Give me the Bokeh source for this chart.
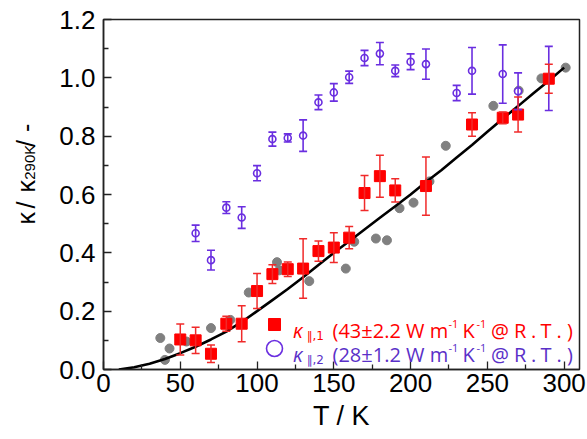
import math
from bokeh.plotting import figure
from bokeh.layouts import row
from bokeh.models import (Range1d, FixedTicker, PrintfTickFormatter, Whisker,
                          ColumnDataSource, TeeHead, Label, Legend, LegendItem)
from bokeh.embed import file_html
from bokeh.resources import INLINE

# ---------------- data ----------------
# kappa_parallel,1 (red squares)
T1 = [50, 60, 70, 80, 90, 100, 110, 120, 130, 140, 150, 160, 170, 180, 190, 210, 240, 260, 270, 290]
k1 = [0.103, 0.100, 0.054, 0.157, 0.157, 0.269, 0.327, 0.344, 0.346, 0.406, 0.418, 0.452,
      0.605, 0.663, 0.614, 0.629, 0.840, 0.863, 0.874, 0.997]
e1 = [0.053, 0.045, 0.030, 0.026, 0.062, 0.060, 0.032, 0.025, 0.102, 0.035, 0.051, 0.038,
      0.060, 0.072, 0.040, 0.100, 0.040, 0.020, 0.060, 0.050]

# kappa_parallel,2 (purple open circles)
T2 = [60, 70, 80, 90, 100, 110, 120, 130, 140, 150, 160, 170, 180, 190, 200, 210, 230, 240, 260, 270, 290]
k2 = [0.467, 0.375, 0.555, 0.521, 0.673, 0.790, 0.794, 0.802, 0.916, 0.950, 1.002, 1.068,
      1.083, 1.024, 1.055, 1.047, 0.948, 1.024, 1.013, 0.954, 0.998]
e2 = [0.028, 0.034, 0.020, 0.037, 0.026, 0.024, 0.014, 0.054, 0.025, 0.030, 0.021, 0.026,
      0.038, 0.020, 0.027, 0.052, 0.026, 0.080, 0.100, 0.063, 0.110]

# grey reference points
Tg = [37, 40, 43, 54, 70, 82.6, 94.6, 113, 114.5, 134, 157.8, 163.3, 177.4, 184.6,
      192.8, 201.9, 212.3, 222.9, 253.9, 270.4, 285.2, 301]
kg = [0.108, 0.033, 0.072, 0.096, 0.142, 0.170, 0.264, 0.368, 0.340, 0.303, 0.346, 0.438,
      0.449, 0.443, 0.553, 0.572, 0.645, 0.767, 0.904, 0.956, 0.998, 1.035]

# black fit curve
Tf = [10, 20, 30, 40, 50, 60, 70, 80, 90, 100, 110, 120, 130, 140, 150, 160, 170, 180,
      190, 200, 210, 220, 230, 240, 250, 260, 270, 280, 290, 300]
kf = [0.000, 0.008, 0.020, 0.036, 0.056, 0.078, 0.103, 0.130, 0.163, 0.200, 0.238, 0.276,
      0.316, 0.358, 0.400, 0.440, 0.480, 0.520, 0.560, 0.600, 0.643, 0.683, 0.727, 0.770,
      0.815, 0.860, 0.903, 0.947, 0.990, 1.035]

x_major = [0, 50, 100, 150, 200, 250, 300]
x_minor = [25, 75, 125, 175, 225, 275]
y_major = [0.0, 0.2, 0.4, 0.6, 0.8, 1.0, 1.2]
y_minor = [0.1, 0.3, 0.5, 0.7, 0.9, 1.1]

RED = "#ff0000"
RED_ERR = "#f02a2a"
PURPLE = "#6a2ee0"
PURPLE_TXT = "#5a30c8"
GREY = "#808080"

# ---------------- main figure ----------------
p = figure(width=542, height=439, output_backend="svg", toolbar_location=None,
           x_range=Range1d(0, 310), y_range=Range1d(0, 1.2),
           min_border_left=58, min_border_right=8, min_border_top=19, min_border_bottom=70)
p.xgrid.visible = False
p.ygrid.visible = False
p.outline_line_color = "#222222"
p.outline_line_width = 1.5

p.xaxis.ticker = FixedTicker(ticks=x_major, minor_ticks=x_minor)
p.yaxis.ticker = FixedTicker(ticks=y_major, minor_ticks=y_minor)
p.yaxis.formatter = PrintfTickFormatter(format="%.1f")
for ax in (p.xaxis[0], p.yaxis[0]):
    ax.major_tick_in = 8
    ax.major_tick_out = 0
    ax.minor_tick_in = 5
    ax.minor_tick_out = 0
    ax.major_tick_line_color = "#222222"
    ax.minor_tick_line_color = "#222222"
    ax.major_tick_line_width = 1.3
    ax.minor_tick_line_width = 1.3
    ax.axis_line_color = "#222222"
    ax.axis_line_width = 1.5
    ax.major_label_text_font = "Liberation Sans"
    ax.major_label_text_font_size = "26px"
    ax.major_label_text_color = "black"
p.xaxis.major_label_standoff = 4
p.yaxis.major_label_standoff = 8
p.xaxis.axis_label = "T / K"
p.xaxis.axis_label_text_font = "Liberation Sans"
p.xaxis.axis_label_text_font_size = "27px"
p.xaxis.axis_label_text_font_style = "normal"
p.xaxis.axis_label_text_color = "black"
p.xaxis.axis_label_standoff = 6

# ---------------- marks ----------------
p.scatter(Tg, kg, marker="circle", size=9, fill_color=GREY, line_color=GREY)
p.line(Tf, kf, line_width=2.6, line_color="black")

src2 = ColumnDataSource(dict(x=T2, y=k2,
                             lo=[a - b for a, b in zip(k2, e2)],
                             hi=[a + b for a, b in zip(k2, e2)]))
src1 = ColumnDataSource(dict(x=T1, y=k1,
                             lo=[a - b for a, b in zip(k1, e1)],
                             hi=[a + b for a, b in zip(k1, e1)]))

w2 = Whisker(source=src2, base="x", upper="hi", lower="lo", line_color=PURPLE, line_width=1.6,
             upper_head=TeeHead(size=8, line_color=PURPLE, line_width=1.6),
             lower_head=TeeHead(size=8, line_color=PURPLE, line_width=1.6), level="glyph")
p.add_layout(w2)
r2 = p.scatter("x", "y", source=src2, marker="circle", size=7, fill_color="white",
               line_color=PURPLE, line_width=1.6)

w1 = Whisker(source=src1, base="x", upper="hi", lower="lo", line_color=RED_ERR, line_width=1.5,
             upper_head=TeeHead(size=8, line_color=RED_ERR, line_width=1.5),
             lower_head=TeeHead(size=8, line_color=RED_ERR, line_width=1.5), level="glyph")
p.add_layout(w1)
r1 = p.scatter("x", "y", source=src1, marker="square", size=11, fill_color=RED, line_color=RED)

# ---------------- legend (markers) ----------------
leg1 = Legend(items=[LegendItem(label=" ", renderers=[r1])], location=(156, 30),
              glyph_width=30, glyph_height=30, padding=0, margin=0, spacing=0,
              label_standoff=0, label_text_font_size="1px", label_width=1, label_height=1,
              border_line_color=None, background_fill_alpha=0)
leg2 = Legend(items=[LegendItem(label=" ", renderers=[r2])], location=(151, 1),
              glyph_width=40, glyph_height=40, padding=0, margin=0, spacing=0,
              label_standoff=0, label_text_font_size="1px", label_width=1, label_height=1,
              border_line_color=None, background_fill_alpha=0)
p.add_layout(leg1)
p.add_layout(leg2)


# ---------------- text helpers (reference pixel -> data position) ----------------
def dx(px):
    return (px - 103) / 476 * 310


def dy(py):
    return (369 - py) / 350 * 1.2


def txt(s, px, py, size, color="black", font="Open Sans", style="normal"):
    p.add_layout(Label(x=dx(px), y=dy(py), text=s, text_font=font, text_font_size=f"{size}px",
                       text_color=color, text_font_style=style,
                       text_align="left", text_baseline="alphabetic"))


# legend text
for base, sub, val, col in ((330, "\u2225,1", "(43\u00b12.2 W m", RED),
                            (354, "\u2225,2", "(28\u00b11.2 W m", PURPLE_TXT)):
    txt("\u03ba", 292.5, base, 20, col, style="italic")
    txt(sub, 306, base + 5, 12, col, font="DejaVu Sans")
    txt(val, 332, base, 20, col)
    txt("-1", 448, base - 7, 11, col)
    txt("K", 462, base, 20, col)
    txt("-1", 476, base - 7, 11, col)
    for ch, cx in (("@", 490.5), ("R", 513.5), (".", 530.5), ("T", 540), (".", 556), (")", 566.5)):
        txt(ch, cx, base, 20, col)

# ---------------- y-axis title strip ----------------
W_STRIP = 45
yt = figure(width=W_STRIP, height=439, output_backend="svg", toolbar_location=None,
            x_range=Range1d(0, W_STRIP), y_range=Range1d(0, 439),
            min_border=0, min_border_left=0, min_border_right=0,
            min_border_top=0, min_border_bottom=0)
yt.axis.visible = False
yt.grid.visible = False
yt.outline_line_color = None

A = math.pi / 2


def ytxt(s, px, py, size):
    yt.add_layout(Label(x=px, y=439 - py, text=s, text_font="Liberation Sans",
                        text_font_size=f"{size}px", text_color="black", angle=A,
                        text_align="left", text_baseline="alphabetic"))


ytxt("\u03ba", 25, 257, 25)
ytxt("/", 25, 237, 25)
ytxt("\u03ba", 25, 217, 25)
ytxt("290K", 29, 201, 15)
ytxt("/", 25, 160, 25)
ytxt("-", 25, 141, 25)

layout = row(yt, p)
open("out.html", "w").write(file_html(layout, INLINE))
